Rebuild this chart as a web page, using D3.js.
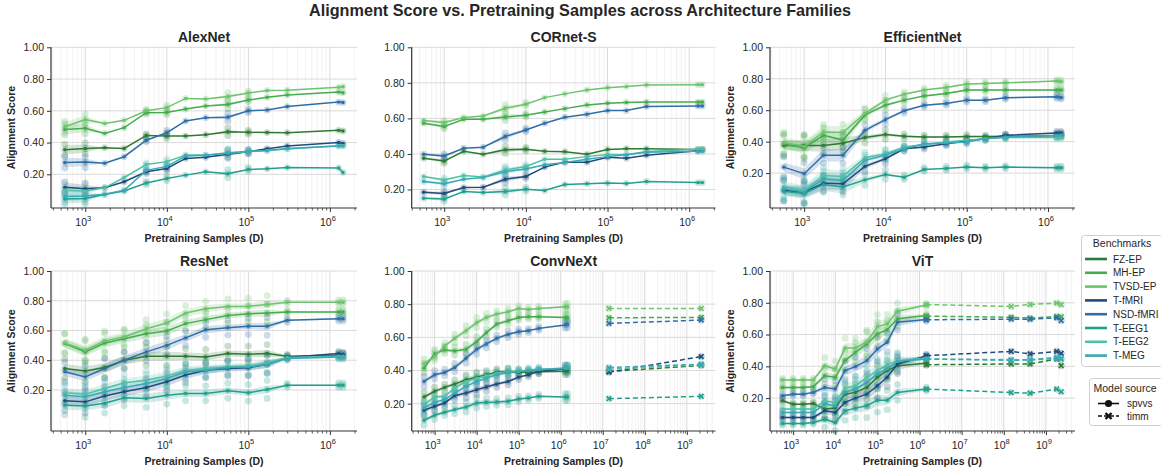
<!DOCTYPE html>
<html>
<head>
<meta charset="utf-8">
<script src="https://cdn.jsdelivr.net/npm/d3@7"></script>
<style>
  body { margin: 0; background: #fff; }
  svg { font-family: "Liberation Sans", Arial, sans-serif; }
</style>
</head>
<body>
<svg id="chart" width="1161" height="471"></svg>
<script>
// ---- data ----
const seriesNames = ['FZ-EP', 'MH-EP', 'TVSD-EP', 'T-fMRI', 'NSD-fMRI', 'T-EEG1', 'T-EEG2', 'T-MEG'];
const seriesColors = ['#2c7a33', '#45ac4c', '#6cc46c', '#1f4b7d', '#2f6fa8', '#22a08c', '#52c1a6', '#3aa8b6'];
const familyNames = ['AlexNet', 'CORnet-S', 'EfficientNet', 'ResNet', 'ConvNeXt', 'ViT'];
const spvvsSamples = [560, 1000, 1730, 3000, 5600, 10000, 17000, 30000, 56000, 100000, 170000, 300000, 1281000, 1450000];
const yTickValues = [0.2, 0.4, 0.6, 0.8, 1.0];

const alexnetScores = [
  [0.355, 0.363, 0.368, 0.363, 0.445, 0.441, 0.441, 0.45, 0.468, 0.465, 0.463, 0.462, 0.477, 0.473],
  [0.483, 0.49, 0.458, 0.494, 0.588, 0.59, 0.611, 0.63, 0.64, 0.668, 0.685, 0.70, 0.718, 0.714],
  [0.50, 0.545, 0.52, 0.54, 0.60, 0.62, 0.678, 0.675, 0.69, 0.712, 0.728, 0.73, 0.748, 0.752],
  [0.118, 0.11, 0.116, 0.153, 0.216, 0.237, 0.30, 0.307, 0.326, 0.342, 0.361, 0.378, 0.401, 0.395],
  [0.275, 0.277, 0.27, 0.311, 0.415, 0.462, 0.536, 0.557, 0.56, 0.60, 0.605, 0.627, 0.655, 0.652],
  [0.045, 0.048, 0.073, 0.095, 0.145, 0.174, 0.195, 0.216, 0.204, 0.231, 0.235, 0.243, 0.24, 0.212],
  [0.10, 0.095, 0.115, 0.18, 0.262, 0.28, 0.322, 0.322, 0.332, 0.342, 0.35, 0.36, 0.38, 0.382],
  [0.06, 0.063, 0.075, 0.10, 0.225, 0.25, 0.315, 0.32, 0.335, 0.345, 0.35, 0.362, 0.378, 0.378]
];
const alexnetSpread = [0.03, 0.025, 0, 0, 0, 0, 0, 0, 0.012, 0, 0, 0, 0, 0];
const alexnetModelSpread = [0.035, 0.035, 0, 0, 0.01, 0.015, 0, 0, 0.025, 0.012, 0, 0, 0, 0];

const cornetScores = [
  [0.376, 0.36, 0.415, 0.399, 0.423, 0.427, 0.415, 0.413, 0.398, 0.425, 0.43, 0.43, 0.425, 0.425],
  [0.573, 0.554, 0.595, 0.595, 0.608, 0.618, 0.636, 0.655, 0.676, 0.685, 0.69, 0.692, 0.692, 0.692],
  [0.588, 0.577, 0.605, 0.614, 0.657, 0.68, 0.717, 0.738, 0.76, 0.773, 0.779, 0.788, 0.79, 0.79],
  [0.185, 0.178, 0.211, 0.213, 0.258, 0.273, 0.326, 0.354, 0.354, 0.382, 0.376, 0.393, 0.418, 0.423],
  [0.399, 0.389, 0.432, 0.438, 0.498, 0.535, 0.573, 0.607, 0.623, 0.644, 0.644, 0.667, 0.67, 0.67],
  [0.151, 0.146, 0.189, 0.183, 0.189, 0.202, 0.194, 0.228, 0.233, 0.236, 0.234, 0.245, 0.239, 0.239],
  [0.273, 0.254, 0.279, 0.27, 0.31, 0.33, 0.37, 0.37, 0.385, 0.397, 0.395, 0.414, 0.427, 0.427],
  [0.245, 0.232, 0.258, 0.267, 0.30, 0.316, 0.339, 0.352, 0.37, 0.385, 0.395, 0.41, 0.415, 0.415]
];
const cornetSpread = [0.005, 0.01, 0, 0, 0.015, 0.005, 0, 0, 0, 0, 0, 0, 0, 0];
const cornetModelSpread = [0.008, 0.012, 0, 0, 0.02, 0.01, 0, 0, 0, 0, 0, 0, 0, 0];

const efficientnetScores = [
  [0.375, 0.375, 0.376, 0.39, 0.426, 0.445, 0.434, 0.43, 0.43, 0.432, 0.432, 0.434, 0.438, 0.438],
  [0.385, 0.36, 0.44, 0.41, 0.57, 0.632, 0.664, 0.691, 0.706, 0.728, 0.728, 0.728, 0.728, 0.728],
  [0.395, 0.37, 0.46, 0.46, 0.58, 0.664, 0.702, 0.728, 0.745, 0.766, 0.77, 0.774, 0.785, 0.782],
  [0.09, 0.08, 0.136, 0.132, 0.243, 0.291, 0.355, 0.366, 0.387, 0.404, 0.419, 0.44, 0.455, 0.455],
  [0.238, 0.196, 0.313, 0.313, 0.472, 0.54, 0.596, 0.632, 0.643, 0.664, 0.664, 0.679, 0.685, 0.681],
  [0.085, 0.07, 0.128, 0.111, 0.157, 0.191, 0.174, 0.223, 0.23, 0.238, 0.234, 0.238, 0.234, 0.234],
  [0.115, 0.089, 0.185, 0.179, 0.298, 0.323, 0.366, 0.381, 0.398, 0.409, 0.419, 0.426, 0.426, 0.43],
  [0.10, 0.08, 0.164, 0.153, 0.281, 0.313, 0.355, 0.387, 0.391, 0.398, 0.42, 0.43, 0.44, 0.443]
];
const efficientnetSpread = [0.03, 0.035, 0.04, 0.04, 0.015, 0.01, 0.006, 0.005, 0.005, 0.005, 0.004, 0.004, 0.004, 0.004];
const efficientnetModelSpread = [0.065, 0.07, 0.05, 0.05, 0.035, 0.03, 0.015, 0.012, 0.012, 0.012, 0.01, 0.01, 0.01, 0.01];

const resnetScores = [
  [0.344, 0.328, 0.351, 0.40, 0.427, 0.427, 0.427, 0.422, 0.445, 0.44, 0.445, 0.427, 0.433, 0.433],
  [0.512, 0.456, 0.516, 0.545, 0.578, 0.597, 0.646, 0.673, 0.70, 0.713, 0.717, 0.724, 0.724, 0.724],
  [0.516, 0.467, 0.53, 0.556, 0.612, 0.65, 0.717, 0.746, 0.762, 0.762, 0.775, 0.79, 0.79, 0.79],
  [0.127, 0.12, 0.159, 0.188, 0.217, 0.255, 0.30, 0.333, 0.344, 0.349, 0.373, 0.418, 0.445, 0.44],
  [0.322, 0.288, 0.344, 0.40, 0.456, 0.50, 0.55, 0.605, 0.619, 0.628, 0.628, 0.668, 0.679, 0.679],
  [0.098, 0.092, 0.11, 0.148, 0.143, 0.165, 0.177, 0.177, 0.195, 0.181, 0.203, 0.232, 0.232, 0.232],
  [0.181, 0.172, 0.21, 0.248, 0.266, 0.293, 0.333, 0.344, 0.355, 0.36, 0.382, 0.418, 0.427, 0.427],
  [0.165, 0.154, 0.188, 0.217, 0.244, 0.277, 0.322, 0.333, 0.351, 0.355, 0.371, 0.411, 0.422, 0.422]
];
const resnetSpread = [0.03, 0.03, 0.03, 0.03, 0.03, 0.03, 0.025, 0.025, 0.02, 0.02, 0.025, 0.005, 0.005, 0.005];
const resnetModelSpread = [0.065, 0.075, 0.065, 0.055, 0.06, 0.06, 0.05, 0.05, 0.05, 0.055, 0.06, 0.012, 0.015, 0.015];

const convnextScores = [
  [0.24, 0.274, 0.298, 0.318, 0.344, 0.36, 0.374, 0.39, 0.394, 0.388, 0.39, 0.392, 0.395, 0.395],
  [0.414, 0.50, 0.524, 0.518, 0.528, 0.574, 0.628, 0.68, 0.70, 0.72, 0.724, 0.724, 0.72, 0.718],
  [0.44, 0.485, 0.548, 0.594, 0.64, 0.688, 0.72, 0.74, 0.754, 0.774, 0.768, 0.774, 0.784, 0.784],
  [0.16, 0.184, 0.204, 0.248, 0.264, 0.284, 0.30, 0.318, 0.334, 0.36, 0.374, 0.394, 0.41, 0.41],
  [0.334, 0.374, 0.388, 0.418, 0.474, 0.528, 0.56, 0.594, 0.618, 0.634, 0.64, 0.654, 0.675, 0.678],
  [0.10, 0.13, 0.148, 0.164, 0.18, 0.204, 0.208, 0.21, 0.214, 0.228, 0.234, 0.244, 0.24, 0.24],
  [0.194, 0.24, 0.244, 0.294, 0.334, 0.354, 0.368, 0.384, 0.394, 0.394, 0.404, 0.408, 0.414, 0.414],
  [0.174, 0.208, 0.224, 0.264, 0.304, 0.334, 0.354, 0.374, 0.388, 0.394, 0.40, 0.405, 0.414, 0.414]
];
const convnextSpread = [0.012, 0.012, 0.01, 0.012, 0.015, 0.015, 0.015, 0.01, 0.01, 0.008, 0.005, 0.005, 0.005, 0.005];
const convnextModelSpread = [0.03, 0.025, 0.02, 0.025, 0.03, 0.03, 0.025, 0.02, 0.02, 0.015, 0.012, 0.012, 0.02, 0.02];
const convnextTimmSamples = [1.4e7, 2.2e9];
const convnextTimmScores = [
  [0.394, 0.43], [0.718, 0.72], [0.774, 0.774], [0.39, 0.484],
  [0.684, 0.704], [0.23, 0.244], [0.408, 0.434], [0.418, 0.438]
];

const vitScores = [
  [0.183, 0.162, 0.162, 0.166, 0.131, 0.137, 0.225, 0.236, 0.267, 0.331, 0.373, 0.404, null, 0.419],
  [0.267, 0.267, 0.267, 0.272, 0.341, 0.331, 0.436, 0.488, 0.541, 0.604, 0.63, 0.699, null, 0.72],
  [0.314, 0.314, 0.314, 0.314, 0.404, 0.383, 0.516, 0.516, 0.552, 0.65, 0.667, 0.747, null, 0.786],
  [0.078, 0.078, 0.078, 0.078, 0.12, 0.109, 0.173, 0.20, 0.225, 0.278, 0.331, 0.415, null, 0.465],
  [0.215, 0.225, 0.225, 0.236, 0.267, 0.257, 0.373, 0.398, 0.436, 0.509, 0.552, 0.678, null, 0.695],
  [0.04, 0.04, 0.04, 0.046, 0.067, 0.046, 0.12, 0.137, 0.152, 0.187, 0.187, 0.236, null, 0.257],
  [0.131, 0.131, 0.131, 0.131, 0.183, 0.173, 0.263, 0.278, 0.331, 0.373, 0.41, 0.436, null, 0.452],
  [0.109, 0.109, 0.109, 0.109, 0.162, 0.152, 0.236, 0.257, 0.299, 0.352, 0.383, 0.432, null, 0.446]
];
const vitSpread = [0.006, 0.006, 0.006, 0.006, 0.02, 0.02, 0.03, 0.03, 0.035, 0.035, 0.03, 0.025, null, 0.006];
const vitModelSpread = [0.01, 0.01, 0.01, 0.01, 0.05, 0.05, 0.06, 0.06, 0.075, 0.075, 0.06, 0.05, null, 0.012];
const vitTimmSamples = [1.45e6, 1.5e8, 4.2e8, 1.8e9, 2.3e9];
const vitTimmScores = [
  [0.41, 0.415, 0.415, 0.446, 0.404],
  [0.716, 0.709, 0.703, 0.714, 0.712],
  [0.789, 0.777, 0.789, 0.798, 0.788],
  [0.467, 0.494, 0.478, 0.494, 0.482],
  [0.693, 0.697, 0.697, 0.705, 0.688],
  [0.257, 0.235, 0.231, 0.257, 0.24],
  [0.446, 0.442, 0.442, 0.457, 0.45],
  [0.446, 0.438, 0.44, 0.45, 0.445]
];

// axis limits per panel
const xLimits = [[380, 2.15e6], [400, 2.1e6], [380, 2.15e6], [380, 2.15e6], [285, 4.8e9], [282, 4.9e9]];
const yLower = [-0.012, 0.096, -0.022, -0.076, 0.035, -0.007];

const panelScores = [alexnetScores, cornetScores, efficientnetScores, resnetScores, convnextScores, vitScores];
const panelSpread = [alexnetSpread, cornetSpread, efficientnetSpread, resnetSpread, convnextSpread, vitSpread];
const panelModelSpread = [alexnetModelSpread, cornetModelSpread, efficientnetModelSpread,
  resnetModelSpread, convnextModelSpread, vitModelSpread];
const panelTimm = [null, null, null, null,
  { samples: convnextTimmSamples, scores: convnextTimmScores },
  { samples: vitTimmSamples, scores: vitTimmScores }];

// ---- layout ----
const cols = [[51, 357], [411.7, 715.5], [770, 1075]];
const rows = [[47.3, 208], [271, 431]];
const textColor = '#262626';

const svg = d3.select('#chart');

svg.append('text')
  .attr('x', 580).attr('y', 16)
  .attr('text-anchor', 'middle')
  .attr('font-size', '16.2px').attr('font-weight', 'bold')
  .attr('fill', textColor)
  .text('Alignment Score vs. Pretraining Samples across Architecture Families');

function xMarker(sel, s) {
  sel.attr('d', `M${-s},${-s}L${s},${s}M${-s},${s}L${s},${-s}`);
}

function drawPanel(i) {
  const col = cols[i % 3], row = rows[Math.floor(i / 3)];
  const x = d3.scaleLog().domain(xLimits[i]).range(col);
  const y = d3.scaleLinear().domain([yLower[i], 1]).range([row[1], row[0]]);
  const g = svg.append('g');

  // log grid
  const [lo, hi] = xLimits[i];
  const major = [], minor = [];
  for (let k = Math.floor(Math.log10(lo)); k <= Math.ceil(Math.log10(hi)); k++) {
    for (let m = 1; m < 10; m++) {
      const v = m * Math.pow(10, k);
      if (v >= lo && v <= hi) (m === 1 ? major : minor).push(v);
    }
  }
  g.append('g').selectAll('line').data(minor).join('line')
    .attr('x1', d => x(d)).attr('x2', d => x(d))
    .attr('y1', row[0]).attr('y2', row[1])
    .attr('stroke', '#ececec').attr('stroke-width', 0.7);
  g.append('g').selectAll('line').data(major).join('line')
    .attr('x1', d => x(d)).attr('x2', d => x(d))
    .attr('y1', row[0]).attr('y2', row[1])
    .attr('stroke', '#dadada').attr('stroke-width', 1);
  g.append('g').selectAll('line').data(yTickValues).join('line')
    .attr('x1', col[0]).attr('x2', col[1])
    .attr('y1', d => y(d)).attr('y2', d => y(d))
    .attr('stroke', '#dadada').attr('stroke-width', 1);

  const scores = panelScores[i], spread = panelSpread[i], mSpread = panelModelSpread[i];

  // confidence bands
  const area = d3.area()
    .x(d => x(d.x)).y0(d => y(d.v - d.s)).y1(d => y(d.v + d.s));
  scores.forEach((vals, si) => {
    const pts = vals.map((v, k) => ({ x: spvvsSamples[k], v, s: spread[k] }))
      .filter(d => d.v != null && d.s != null);
    g.append('path').datum(pts).attr('d', area)
      .attr('fill', seriesColors[si]).attr('opacity', 0.2);
  });

  // faint model dots: mean model plus lowest / highest model seen at each size
  scores.forEach((vals, si) => {
    const dots = [];
    vals.forEach((v, k) => {
      if (v == null) return;
      dots.push({ x: spvvsSamples[k], v });
      const m = mSpread[k];
      if (m && m > 0.008) {
        dots.push({ x: spvvsSamples[k], v: v - m });
        dots.push({ x: spvvsSamples[k], v: v + m });
      }
    });
    g.append('g').selectAll('circle').data(dots).join('circle')
      .attr('cx', d => x(d.x)).attr('cy', d => y(d.v)).attr('r', 3.4)
      .attr('fill', seriesColors[si]).attr('opacity', 0.25);
  });

  // timm dashed lines
  const timm = panelTimm[i];
  const line = d3.line().x(d => x(d.x)).y(d => y(d.v));
  if (timm) {
    timm.scores.forEach((vals, si) => {
      const pts = vals.map((v, k) => ({ x: timm.samples[k], v }));
      g.append('path').datum(pts).attr('d', line)
        .attr('fill', 'none').attr('stroke', seriesColors[si])
        .attr('stroke-width', 1.5).attr('stroke-dasharray', '5,3');
      g.append('g').selectAll('circle').data(pts).join('circle')
        .attr('cx', d => x(d.x)).attr('cy', d => y(d.v)).attr('r', 3.6)
        .attr('fill', seriesColors[si]).attr('opacity', 0.25);
      g.append('g').selectAll('path').data(pts).join('path')
        .attr('transform', d => `translate(${x(d.x)},${y(d.v)})`)
        .call(xMarker, 2.3)
        .attr('stroke', seriesColors[si]).attr('stroke-width', 1.6).attr('fill', 'none');
    });
  }

  // spvvs lines
  scores.forEach((vals, si) => {
    const pts = vals.map((v, k) => ({ x: spvvsSamples[k], v })).filter(d => d.v != null);
    g.append('path').datum(pts).attr('d', line)
      .attr('fill', 'none').attr('stroke', seriesColors[si]).attr('stroke-width', 1.5);
    g.append('g').selectAll('circle').data(pts).join('circle')
      .attr('cx', d => x(d.x)).attr('cy', d => y(d.v)).attr('r', 1.7)
      .attr('fill', seriesColors[si]);
  });

  // axes
  const yAxis = g.append('g').attr('transform', `translate(${col[0]},0)`)
    .call(d3.axisLeft(y).tickValues(yTickValues).tickFormat(d3.format('.2f')).tickSize(4).tickSizeOuter(0));
  yAxis.select('.domain').attr('stroke', '#333').attr('stroke-width', 1.2)
    .attr('d', `M0,${row[0]}V${row[1]}`);
  yAxis.selectAll('.tick line').attr('stroke', '#333');
  yAxis.selectAll('.tick text').attr('font-size', '10.5px').attr('fill', textColor)
    .attr('font-family', '"Liberation Sans", Arial, sans-serif');

  const xAxis = g.append('g').attr('transform', `translate(0,${row[1]})`)
    .call(d3.axisBottom(x).tickValues(major).tickFormat('').tickSize(4).tickSizeOuter(0));
  xAxis.select('.domain').attr('stroke', '#333').attr('stroke-width', 1.2)
    .attr('d', `M${col[0]},0H${col[1]}`);
  xAxis.selectAll('.tick line').attr('stroke', '#333');
  const xMinor = g.append('g').attr('transform', `translate(0,${row[1]})`)
    .call(d3.axisBottom(x).tickValues(minor).tickFormat('').tickSize(2.5).tickSizeOuter(0));
  xMinor.select('.domain').remove();
  xMinor.selectAll('.tick line').attr('stroke', '#333').attr('stroke-width', 0.8);

  const lab = g.append('g').selectAll('text').data(major).join('text')
    .attr('x', d => x(d) - 2).attr('y', row[1] + 18)
    .attr('text-anchor', 'middle').attr('font-size', '10.5px').attr('fill', textColor);
  lab.append('tspan').text('10');
  lab.append('tspan').attr('dy', -5).attr('font-size', '7.5px')
    .text(d => Math.round(Math.log10(d)));

  // labels
  g.append('text')
    .attr('x', (col[0] + col[1]) / 2).attr('y', row[0] - 5.5)
    .attr('text-anchor', 'middle').attr('font-size', '14px').attr('font-weight', 'bold')
    .attr('fill', textColor).text(familyNames[i]);
  g.append('text')
    .attr('x', (col[0] + col[1]) / 2).attr('y', row[1] + 34)
    .attr('text-anchor', 'middle').attr('font-size', '10.5px').attr('font-weight', 'bold')
    .attr('fill', textColor).text('Pretraining Samples (D)');
  if (i % 3 !== 1) {
    g.append('text')
      .attr('transform', `translate(${col[0] - 36},${(row[0] + row[1]) / 2}) rotate(-90)`)
      .attr('text-anchor', 'middle').attr('font-size', '10.5px').attr('font-weight', 'bold')
      .attr('fill', textColor).text('Alignment Score');
  }
}

familyNames.forEach((_, i) => drawPanel(i));

// ---- legends ----
const leg = svg.append('g');
leg.append('rect').attr('x', 1081.5).attr('y', 235.5).attr('width', 82).attr('height', 131)
  .attr('rx', 3).attr('fill', '#fff').attr('fill-opacity', 0.85).attr('stroke', '#d0d0d0');
leg.append('text').attr('x', 1122).attr('y', 247).attr('text-anchor', 'middle')
  .attr('font-size', '10.5px').attr('fill', textColor).text('Benchmarks');
seriesNames.forEach((name, si) => {
  const yy = 259 + si * 13.8;
  leg.append('line').attr('x1', 1085).attr('x2', 1107).attr('y1', yy).attr('y2', yy)
    .attr('stroke', seriesColors[si]).attr('stroke-width', 2.6);
  leg.append('text').attr('x', 1113).attr('y', yy + 3.6)
    .attr('font-size', '10px').attr('fill', textColor).text(name);
});

const leg2 = svg.append('g');
leg2.append('rect').attr('x', 1089.5).attr('y', 378.5).attr('width', 74).attr('height', 47)
  .attr('rx', 3).attr('fill', '#fff').attr('fill-opacity', 0.85).attr('stroke', '#d0d0d0');
leg2.append('text').attr('x', 1125).attr('y', 392).attr('text-anchor', 'middle')
  .attr('font-size', '10.5px').attr('fill', textColor).text('Model source');
[['spvvs', null], ['timm', '4,2']].forEach(([name, dash], k) => {
  const yy = 403.5 + k * 12.5;
  leg2.append('line').attr('x1', 1098).attr('x2', 1119).attr('y1', yy).attr('y2', yy)
    .attr('stroke', '#111').attr('stroke-width', 1.6).attr('stroke-dasharray', dash);
  if (k === 0) {
    leg2.append('circle').attr('cx', 1108.5).attr('cy', yy).attr('r', 3.6).attr('fill', '#111');
  } else {
    leg2.append('path').attr('transform', `translate(1108.5,${yy})`).call(xMarker, 3)
      .attr('stroke', '#111').attr('stroke-width', 2.4).attr('fill', 'none');
  }
  leg2.append('text').attr('x', 1127).attr('y', yy + 3.6)
    .attr('font-size', '10px').attr('fill', textColor).text(name);
});
</script>
</body>
</html>
